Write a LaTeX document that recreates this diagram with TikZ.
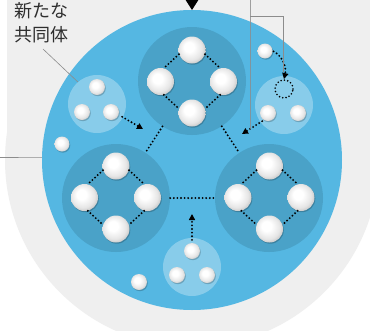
\documentclass[tikz,border=0pt]{standalone}
\usepackage{fontspec}
\newfontfamily\jpfont{Noto Sans CJK JP}
\usetikzlibrary{arrows.meta,shadows}
\definecolor{bggray}{HTML}{EFEFEF}
\definecolor{skyb}{HTML}{55B7E2}
\definecolor{darkb}{HTML}{4AA2C8}
\definecolor{leadc}{HTML}{8C8C8C}
\pgfdeclareradialshading{pearl}{\pgfpoint{-7bp}{7bp}}{color(0bp)=(white); color(9bp)=(white); color(22bp)=(black!10); color(30bp)=(black!26); color(40bp)=(black!30)}
\begin{document}
\begin{tikzpicture}[x=1pt,y=-1pt,
  bigball/.style={circle,inner sep=0pt,minimum size=27pt,shading=pearl,
    drop shadow={shadow xshift=0.8pt,shadow yshift=-1.2pt,opacity=0.2,fill=black}},
  smallball/.style={bigball,minimum size=16pt},
  tinyball/.style={bigball,minimum size=15pt},
  groupc/.style={circle,fill=darkb,minimum size=108pt,inner sep=0pt},
  lightc/.style={circle,fill=white,fill opacity=0.3,minimum size=58pt,inner sep=0pt},
  dotline/.style={line width=2.1pt,dash pattern=on 0pt off 3.6pt,line cap=round},
  arr/.style={dotline,-{Triangle[length=6pt,width=6pt]}},
  leadline/.style={leadc,line width=0.6pt},
]
\useasboundingbox (0,0) rectangle (370,330);
\fill[white] (0,0) rectangle (370,330);
% grey backdrop
\fill[bggray] (192,160) circle[radius=187];
\fill[bggray] (7,-2) rectangle (380,160);
% main blue disc
\node[circle,fill=skyb,minimum size=300pt,inner sep=0pt] (main) at (192,160) {};
% top marker
\fill[black] (185,-1) -- (199,-1) -- (192,10) -- cycle;
% groups
\node[groupc] (gT) at (192,81) {};
\node[groupc] (gL) at (116,198) {};
\node[groupc] (gR) at (269,198) {};
% light circles
\node[lightc] (lcL) at (97,104) {};
\node[lightc] (lcR) at (284,105) {};
\node[lightc] (lcB) at (192,267) {};
% group links
\draw[dotline] (gT) -- (gL);
\draw[dotline] (gT) -- (gR);
\draw[dotline] (gL) -- (gR);
% balls of the groups
\foreach \g/\cx/\cy in {T/192/81.5,L/116/197.5,R/269.5/197.5}{
  \node[bigball] (\g t) at (\cx,\cy-31.5) {};
  \node[bigball] (\g l) at (\cx-31.5,\cy) {};
  \node[bigball] (\g r) at (\cx+31.5,\cy) {};
  \node[bigball] (\g b) at (\cx,\cy+31.5) {};
  \draw[dotline] (\g t.198) -- (\g l.76);
  \draw[dotline] (\g t.-18) -- (\g r.104);
  \draw[dotline] (\g l.-76) -- (\g b.162);
  \draw[dotline] (\g r.-104) -- (\g b.18);
}
% left light community
\node[smallball] (lT) at (97,87) {};
\node[smallball] (lL) at (82,112) {};
\node[smallball] (lR) at (111,112) {};
% right light community
\node[smallball] (rL) at (268,113) {};
\node[smallball] (rR) at (298,113) {};
\node[circle,minimum size=18pt,inner sep=0pt,draw,line width=1.8pt,dash pattern=on 0pt off 3.4pt,line cap=round] (slot) at (284,89) {};
% bottom light community
\node[smallball] (bT) at (192,251) {};
\node[smallball] (bL) at (177,275) {};
\node[smallball] (bR) at (207,275) {};
% lone balls
\node[tinyball] (s1) at (62,144) {};
\node[smallball] (s2) at (139,282) {};
\node[tinyball] (oS) at (265,51) {};
% arrows
\coordinate (aL) at (143,129);
\coordinate (aR) at (242,134);
\coordinate (aB) at (192,214);
\draw[arr,shorten <=4pt] (lR.-20) -- (aL);
\draw[arr,shorten <=2pt] (rL.240) -- (aR);
\draw[arr,shorten <=3pt] (bT.north) -- (aB);
\draw[arr,shorten <=1pt] (oS.east) .. controls (281,55) and (287,66) .. (slot.north);
% leader lines
\coordinate (v1) at (250,-2);
\coordinate (v2) at (250,129);
\draw[leadline,opacity=0.8] (v1) -- (v2);
\coordinate (h1) at (250,16);
\coordinate (h2) at (283,16);
\coordinate (h3) at (283,72);
\draw[leadline] (h1) -- (h2) -- (h3);
\coordinate (w1) at (-1,157.5);
\draw[leadline] (w1) -- (main.179);
% label
\node[anchor=north west,inner sep=0pt,align=left,text=black!82,
  font=\jpfont\fontsize{18}{24}\selectfont] (lbl) at (14,2) {新たな\\共同体};
\coordinate (c1) at (43,49);
\draw[leadline] (c1) -- (lcL.131);
\end{tikzpicture}
\end{document}
